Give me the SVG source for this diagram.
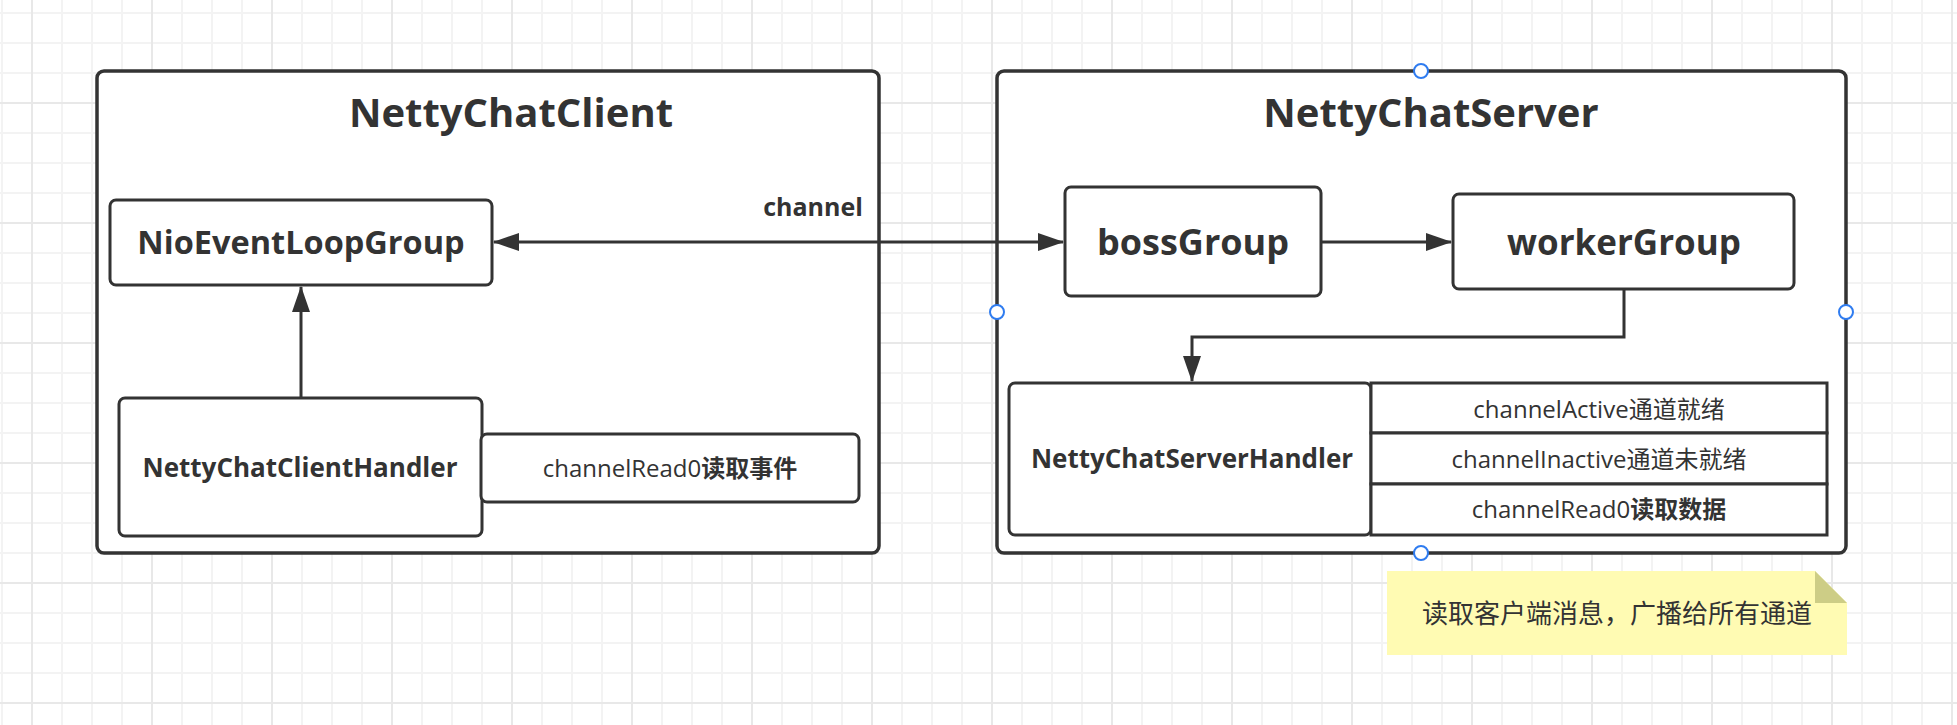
<svg xmlns="http://www.w3.org/2000/svg" width="1957" height="725" viewBox="0 0 1957 725">
<style>
.bg{fill:#ffffff}
.cont{fill:#ffffff;stroke:#333333;stroke-width:3.5}
.box{fill:#ffffff;stroke:#333333;stroke-width:3}
.conn{fill:none;stroke:#333333;stroke-width:3}
.title{font-family:"Open Sans","Noto Sans CJK SC",sans-serif;font-weight:700;font-size:40px;fill:#333333;text-anchor:middle}
.lbl{font-family:"Open Sans","Noto Sans CJK SC",sans-serif;font-weight:700;fill:#333333;text-anchor:middle}
.cell{font-family:"Open Sans","Noto Sans CJK SC",sans-serif;font-weight:400;font-size:24px;fill:#333333;text-anchor:middle}
.b{font-weight:700}
.handle{fill:#ffffff;stroke:#2f7cf0;stroke-width:2}
.note{font-family:"Noto Sans CJK SC",sans-serif;font-size:26px;fill:#333333;text-anchor:middle}
</style>
<defs>
<pattern id="grid" patternUnits="userSpaceOnUse" x="31" y="102" width="120" height="120">
<rect x="0" y="0" width="120" height="120" fill="#ffffff"/>
<rect x="30" y="0" width="2" height="120" fill="#f3f3f3"/>
<rect x="60" y="0" width="2" height="120" fill="#f3f3f3"/>
<rect x="90" y="0" width="2" height="120" fill="#f3f3f3"/>
<rect x="0" y="30" width="120" height="2" fill="#f3f3f3"/>
<rect x="0" y="60" width="120" height="2" fill="#f3f3f3"/>
<rect x="0" y="90" width="120" height="2" fill="#f3f3f3"/>
<rect x="0" y="0" width="2" height="120" fill="#e8e8e8"/>
<rect x="0" y="0" width="120" height="2" fill="#e8e8e8"/>
</pattern>
<marker id="arr" viewBox="0 0 26 18" refX="25" refY="9" markerWidth="26" markerHeight="18" markerUnits="userSpaceOnUse" orient="auto-start-reverse">
<path d="M0,0 L26,9 L0,18 Z" fill="#333333"/>
</marker>
</defs>
<rect width="1957" height="725" fill="url(#grid)"/>

<g id="client">
<rect class="cont" x="97" y="71" width="782" height="482" rx="7"/>
<text class="title" x="511" y="127">NettyChatClient</text>
</g>
<g id="server">
<rect class="cont" x="997" y="71" width="849" height="482" rx="7"/>
<text class="title" x="1431" y="127">NettyChatServer</text>
</g>

<g id="nioEventLoopGroup">
<rect class="box" x="110" y="200" width="382" height="85" rx="6"/>
<text class="lbl" x="301" y="254" font-size="32.5">NioEventLoopGroup</text>
</g>
<g id="nettyChatClientHandler">
<rect class="box" x="119" y="398" width="363" height="138" rx="6"/>
<text class="lbl" x="300" y="477" font-size="26">NettyChatClientHandler</text>
</g>
<g id="clientRead0">
<rect class="box" x="481" y="434" width="378" height="68" rx="6"/>
<text class="cell" x="670" y="477">channelRead0<tspan class="b">读取事件</tspan></text>
</g>

<g id="bossGroup">
<rect class="box" x="1065" y="187" width="256" height="109" rx="6"/>
<text class="lbl" x="1193" y="255" font-size="36">bossGroup</text>
</g>
<g id="workerGroup">
<rect class="box" x="1453" y="194" width="341" height="95" rx="6"/>
<text class="lbl" x="1624" y="255" font-size="35">workerGroup</text>
</g>

<g id="nettyChatServerHandler">
<rect class="box" x="1009" y="383" width="362" height="152" rx="6"/>
<text class="lbl" x="1192" y="468" font-size="26">NettyChatServerHandler</text>
</g>
<g id="channelActive">
<rect class="box" x="1371" y="383" width="456" height="50"/>
<text class="cell" x="1599" y="418">channelActive通道就绪</text>
</g>
<g id="channelInactive">
<rect class="box" x="1371" y="433" width="456" height="51"/>
<text class="cell" x="1599" y="468">channelInactive通道未就绪</text>
</g>
<g id="channelRead0">
<rect class="box" x="1371" y="484" width="456" height="51"/>
<text class="cell" x="1599" y="518">channelRead0<tspan class="b">读取数据</tspan></text>
</g>

<g id="note">
<path d="M1387,571 L1815,571 L1847,603 L1847,655 L1387,655 Z" fill="#fffbb3"/>
<path d="M1815,571 L1815,603 L1847,603 Z" fill="#cdcd86"/>
<text class="note" x="1617" y="623">读取客户端消息，广播给所有通道</text>
</g>

<g id="connectors">
<line class="conn" x1="494" y1="242" x2="1063" y2="242" marker-start="url(#arr)" marker-end="url(#arr)"/>
<text class="lbl" x="813" y="216" font-size="25">channel</text>
<line class="conn" x1="301" y1="398" x2="301" y2="287" marker-end="url(#arr)"/>
<line class="conn" x1="1321" y1="242" x2="1451" y2="242" marker-end="url(#arr)"/>
<polyline class="conn" points="1624,289 1624,337 1192,337 1192,381" marker-end="url(#arr)"/>
</g>

<g id="handles">
<circle class="handle" cx="1421" cy="71" r="7"/>
<circle class="handle" cx="997" cy="312" r="7"/>
<circle class="handle" cx="1846" cy="312" r="7"/>
<circle class="handle" cx="1421" cy="553" r="7"/>
</g>
</svg>
